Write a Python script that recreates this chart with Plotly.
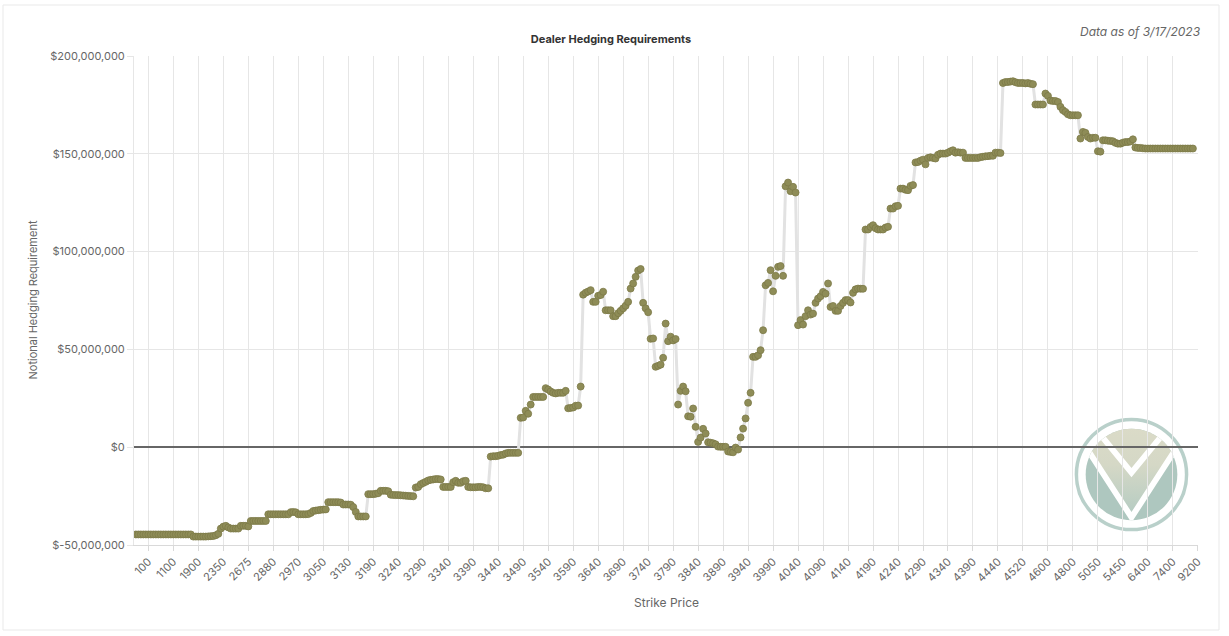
import base64
import plotly.graph_objects as go

# Dealer hedging requirement per strike (millions of USD), in strike order
hedging_musd = [
    -44.6, -44.6, -44.6, -44.6, -44.6, -44.6, -44.6, -44.6, -44.6, -44.6,
    -44.6, -44.6, -44.6, -44.6, -44.6, -44.6, -44.6, -44.6, -44.6, -44.6,
    -44.6, -44.6, -44.6, -45.7, -45.7, -45.7, -45.7, -45.7, -45.7, -45.6,
    -45.5, -45.4, -45.0, -44.3, -41.6, -40.6, -40.2, -41.0, -41.6, -41.6,
    -41.6, -41.6, -40.2, -40.2, -40.2, -40.5, -37.7, -37.7, -37.7, -37.7,
    -37.7, -37.7, -37.7, -34.3, -34.3, -34.3, -34.3, -34.3, -34.3, -34.3,
    -34.3, -34.3, -33.2, -33.1, -33.3, -34.3, -34.3, -34.3, -34.3, -34.2,
    -33.6, -32.6, -32.4, -32.2, -32.0, -31.9, -31.8, -28.1, -28.1, -28.1,
    -28.1, -28.1, -28.3, -29.3, -29.3, -29.3, -29.4, -30.6, -33.1, -35.4,
    -35.4, -35.4, -35.4, -24.0, -24.0, -24.0, -23.8, -23.5, -22.3, -22.3,
    -22.3, -22.5, -24.3, -24.4, -24.5, -24.5, -24.6, -24.7, -24.8, -24.9,
    -25.0, -25.1, -20.6, -20.3, -18.9, -18.3, -17.7, -17.0, -16.7, -16.5,
    -16.3, -16.3, -16.5, -20.3, -20.3, -20.3, -20.3, -17.9, -17.2, -18.2,
    -18.2, -17.4, -17.2, -20.3, -20.5, -20.5, -20.5, -20.3, -20.3, -20.5,
    -21.0, -21.0, -4.8, -4.6, -4.6, -4.4, -4.0, -3.8, -3.2, -2.9,
    -2.9, -2.9, -2.9, -2.9, 15.0, 15.2, 18.6, 17.1, 21.8, 25.7,
    25.7, 25.7, 25.7, 25.7, 30.2, 29.5, 28.5, 27.8, 27.5, 27.8,
    27.8, 27.8, 28.8, 19.9, 20.1, 20.3, 21.2, 21.3, 31.0, 78.0,
    79.0, 79.6, 80.3, 74.3, 74.3, 77.4, 77.8, 79.5, 70.0, 70.0,
    70.0, 67.0, 67.0, 68.5, 69.7, 71.0, 72.3, 74.3, 81.1, 83.7,
    87.1, 90.3, 91.1, 73.8, 71.0, 69.0, 55.4, 55.6, 41.1, 41.6,
    42.2, 45.7, 63.2, 54.2, 56.5, 54.6, 55.3, 21.8, 28.8, 31.0,
    28.6, 15.8, 15.6, 19.8, 10.4, 2.7, 4.9, 9.4, 7.0, 2.5,
    2.3, 2.0, 1.5, 0.3, 0.2, 0.2, 0.2, -2.2, -2.4, -2.6,
    -0.2, -1.2, 5.0, 9.5, 14.7, 22.7, 27.8, 46.2, 46.2, 47.0,
    49.6, 59.8, 82.8, 84.0, 90.5, 79.7, 87.6, 92.2, 92.6, 87.6,
    133.4, 135.3, 130.9, 133.1, 130.2, 62.4, 65.0, 62.7, 67.0, 70.0,
    67.8, 68.3, 73.8, 76.0, 77.2, 79.4, 78.5, 83.7, 71.7, 72.2,
    69.7, 69.7, 72.2, 73.8, 75.2, 75.2, 74.0, 78.9, 80.7, 81.1,
    81.0, 81.0, 111.3, 111.3, 112.6, 113.5, 112.0, 111.3, 111.3, 111.3,
    112.3, 112.7, 122.0, 122.0, 123.2, 123.4, 132.2, 132.2, 131.6, 131.4,
    133.6, 134.0, 145.6, 145.8, 146.5, 147.0, 144.6, 147.9, 148.2, 147.9,
    147.6, 149.5, 150.1, 150.1, 150.1, 150.6, 151.3, 151.8, 150.6, 150.8,
    150.6, 150.6, 147.9, 147.9, 147.9, 147.9, 147.9, 147.9, 148.3, 148.5,
    148.7, 148.8, 149.0, 149.0, 150.6, 150.6, 150.4, 186.2, 186.7, 186.7,
    186.9, 187.1, 186.6, 186.2, 186.2, 186.2, 186.0, 186.2, 185.8, 185.6,
    175.2, 175.2, 175.2, 175.2, 180.8, 179.6, 177.2, 177.0, 177.0, 176.5,
    174.0, 172.3, 171.4, 170.2, 169.7, 169.7, 169.7, 169.7, 157.8, 161.2,
    160.7, 158.6, 157.8, 158.2, 158.2, 151.3, 151.1, 156.9, 156.9, 156.7,
    156.6, 156.4, 155.6, 155.2, 155.2, 155.7, 156.0, 156.0, 156.3, 157.4,
    153.2, 153.0, 153.0, 152.8, 152.7, 152.7, 152.7, 152.7, 152.7, 152.7,
    152.7, 152.7, 152.7, 152.7, 152.7, 152.7, 152.7, 152.7, 152.7, 152.7,
    152.7, 152.7, 152.7, 152.7,
]

# Strike labels shown on the x axis (one every 10 strikes)
strike_tick_labels = [
    "100", "1100", "1900", "2350", "2675", "2880", "2970", "3050", "3130",
    "3190", "3240", "3290", "3340", "3390", "3440", "3490", "3540", "3590",
    "3640", "3690", "3740", "3790", "3840", "3890", "3940", "3990", "4040",
    "4090", "4140", "4190", "4240", "4290", "4340", "4390", "4440", "4520",
    "4600", "4800", "5050", "5450", "6400", "7400", "9200",
]

y_tick_values = [-50e6, 0, 50e6, 100e6, 150e6, 200e6]

y_values = [v * 1e6 for v in hedging_musd]
x_index = list(range(len(y_values)))
tick_positions = [5 + 10 * k for k in range(len(strike_tick_labels))]
y_tick_text = [f"${v:,.0f}" for v in y_tick_values]

FONT = "Inter, 'Open Sans', sans-serif"
L, R, T, B = 134, 31, 56, 91
W, H = 1229, 636
PW, PH = W - L - R, H - T - B


def px_to_paper_x(px):
    return (px - L) / PW


def px_to_paper_y(py):
    return (H - B - py) / PH


fig = go.Figure()
fig.add_trace(go.Scatter(
    x=x_index, y=y_values, mode="lines+markers",
    line=dict(color="#e2e2e2", width=3),
    marker=dict(size=7, color="#8e8c57", line=dict(color="#7c7a48", width=0.8)),
    hoverinfo="skip", showlegend=False,
))

# watermark logo as inline SVG
svg = """<svg xmlns="http://www.w3.org/2000/svg" viewBox="0 0 120 120" width="240" height="240">
<defs>
<linearGradient id="g" x1="0" y1="0" x2="0" y2="1">
<stop offset="0" stop-color="#dddcc8"/><stop offset="0.5" stop-color="#d5d8c6"/><stop offset="1" stop-color="#b3cbc2"/>
</linearGradient>
<clipPath id="c"><circle cx="60" cy="60" r="47"/></clipPath>
</defs>
<circle cx="60" cy="60" r="56.5" fill="none" stroke="#b9d0ca" stroke-width="3.6"/>
<g clip-path="url(#c)">
<rect x="0" y="0" width="120" height="120" fill="#aec7bf"/>
<polygon points="-10,-4 60,104 130,-4" fill="url(#g)"/>
<g stroke="#ffffff" stroke-width="6" fill="none" stroke-linejoin="miter">
<polyline points="-10,-4 60,104 130,-4"/>
<polyline points="14,2 60,58 106,2"/>
</g>
</g>
</svg>"""
svg_uri = "data:image/svg+xml;base64," + base64.b64encode(svg.encode()).decode()

logo_x0, logo_y0, logo_size = 1073, 416, 117
fig.add_layout_image(dict(
    source=svg_uri, xref="paper", yref="paper",
    x=px_to_paper_x(logo_x0), y=px_to_paper_y(logo_y0),
    sizex=logo_size / PW, sizey=logo_size / PH,
    xanchor="left", yanchor="top", sizing="stretch", layer="below", opacity=1,
))

# card border
fig.add_shape(type="rect", xref="paper", yref="paper",
              x0=px_to_paper_x(3), x1=px_to_paper_x(1219),
              y0=px_to_paper_y(630), y1=px_to_paper_y(5),
              line=dict(color="#e9e9e9", width=1), layer="below")

fig.update_layout(
    width=W, height=H, autosize=False,
    margin=dict(l=L, r=R, t=T, b=B, pad=0),
    paper_bgcolor="#ffffff", plot_bgcolor="rgba(0,0,0,0)",
    font=dict(family=FONT, color="#666666", size=11),
    title=dict(text="<b>Dealer Hedging Requirements</b>", x=611 / W, xref="container",
               y=1 - 39 / H, yref="container", xanchor="center", yanchor="middle",
               font=dict(family=FONT, size=11, color="#333333")),
    xaxis=dict(
        range=[-0.75, 425.05], tickmode="array", tickvals=tick_positions,
        ticktext=strike_tick_labels, tickangle=-45, showgrid=True,
        gridcolor="#e6e6e6", gridwidth=1, zeroline=False, showline=True,
        linecolor="#d9d9d9", linewidth=1, ticks="outside", ticklen=5,
        tickcolor="#d9d9d9", tickfont=dict(size=11, color="#666666"),
    ),
    yaxis=dict(
        range=[-50e6, 200e6], tickmode="array", tickvals=y_tick_values,
        ticktext=y_tick_text, showgrid=True, gridcolor="#e6e6e6", gridwidth=1,
        zeroline=True, zerolinecolor="#666666", zerolinewidth=1.5,
        showline=True, linecolor="#e6e6e6", linewidth=1,
        ticks="outside", ticklen=6, tickcolor="#e6e6e6",
        tickfont=dict(size=11, color="#666666"),
    ),
    annotations=[
        dict(text="Notional Hedging Requirement", xref="paper", yref="paper",
             x=px_to_paper_x(32), y=0.5, textangle=-90, showarrow=False,
             xanchor="center", yanchor="middle",
             font=dict(family=FONT, size=11, color="#666666")),
        dict(text="Strike Price", xref="paper", yref="paper",
             x=0.5, y=px_to_paper_y(602), showarrow=False,
             xanchor="center", yanchor="middle",
             font=dict(family=FONT, size=12, color="#666666")),
        dict(text="<i>Data as of 3/17/2023</i>", xref="paper", yref="paper",
             x=px_to_paper_x(1203), y=px_to_paper_y(31), showarrow=False,
             xanchor="right", yanchor="middle",
             font=dict(family=FONT, size=12, color="#666666")),
    ],
)

fig.write_html("out.html")
